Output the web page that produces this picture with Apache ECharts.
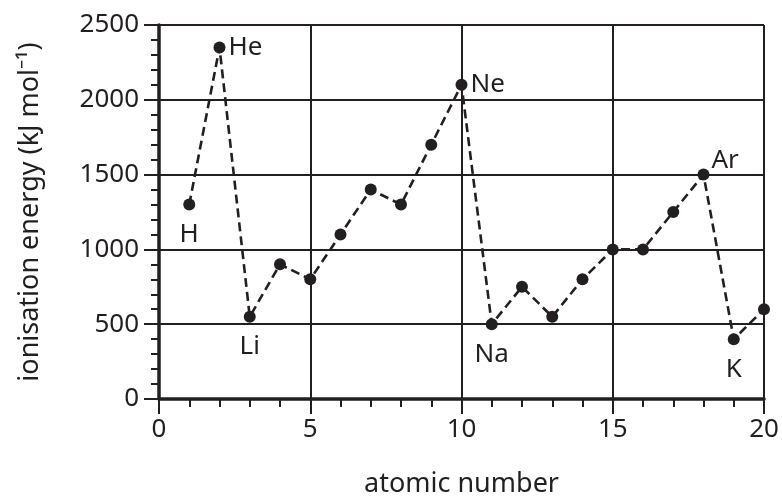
<!DOCTYPE html>
<html>
<head>
<meta charset="utf-8">
<script src="https://cdn.jsdelivr.net/npm/echarts@6/dist/echarts.min.js"></script>
<style>html,body{margin:0;padding:0;background:#fff;}#c{width:782px;height:503px;}</style>
</head>
<body>
<div id="c"></div>
<script>
const atomicNumbers = [1,2,3,4,5,6,7,8,9,10,11,12,13,14,15,16,17,18,19,20];
const ionisationEnergy = [1300,2350,550,900,800,1100,1400,1300,1700,2100,500,750,550,800,1000,1000,1250,1500,400,600];
const elementLabels = {1:'H',2:'He',3:'Li',10:'Ne',11:'Na',18:'Ar',19:'K'};
const labelPlacement = {1:'below',2:'right',3:'below',10:'right',11:'below',18:'aboveRight',19:'below'};

const FONT = 'Noto Sans';
const INK = '#231f20';

const labelStyles = {
  below: {position:'bottom', distance:11},
  right: {position:'right', distance:3},
  aboveRight: {position:'right', distance:2, offset:[0,-14]}
};

const data = atomicNumbers.map((x,i)=>{
  const item = {value:[x, ionisationEnergy[i]]};
  if (elementLabels[x]) {
    const s = labelStyles[labelPlacement[x]];
    item.label = Object.assign({show:true, formatter: elementLabels[x], color:INK, fontSize:26, fontFamily:FONT}, s);
  }
  return item;
});

const chart = echarts.init(document.getElementById('c'));
chart.setOption({
  animation:false,
  grid:{left:159, right:18, top:25, bottom:100, containLabel:false},
  xAxis:{
    type:'value', min:0, max:20, interval:5,
    name:'atomic number', nameLocation:'middle', nameGap:72,
    nameTextStyle:{color:INK, fontSize:27, fontFamily:FONT},
    axisLine:{show:true, onZero:false, lineStyle:{color:INK, width:3.5}},
    axisTick:{show:true, inside:false, length:15, lineStyle:{color:INK, width:2}},
    minorTick:{show:true, splitNumber:5, length:8, lineStyle:{color:INK, width:2}},
    splitLine:{show:true, lineStyle:{color:INK, width:2}},
    axisLabel:{color:INK, fontSize:26, fontFamily:FONT, margin:18, formatter:v=>String(v)}
  },
  yAxis:{
    type:'value', min:0, max:2500, interval:500,
    name:'ionisation energy (kJ mol\u207B\u00B9)', nameLocation:'middle', nameGap:115, nameRotate:90,
    nameTextStyle:{color:INK, fontSize:27, fontFamily:FONT},
    axisLine:{show:true, onZero:false, lineStyle:{color:INK, width:3.5}},
    axisTick:{show:true, inside:false, length:15, lineStyle:{color:INK, width:2}},
    minorTick:{show:true, splitNumber:5, length:8, lineStyle:{color:INK, width:2}},
    splitLine:{show:true, lineStyle:{color:INK, width:2}},
    axisLabel:{color:INK, fontSize:26, fontFamily:FONT, margin:20, formatter:v=>String(v)}
  },
  series:[{
    type:'line', data:data,
    symbol:'circle', symbolSize:12,
    itemStyle:{color:INK},
    lineStyle:{color:INK, width:2.6, type:[9,5]},
    z:5
  }]
});
</script>
</body>
</html>
